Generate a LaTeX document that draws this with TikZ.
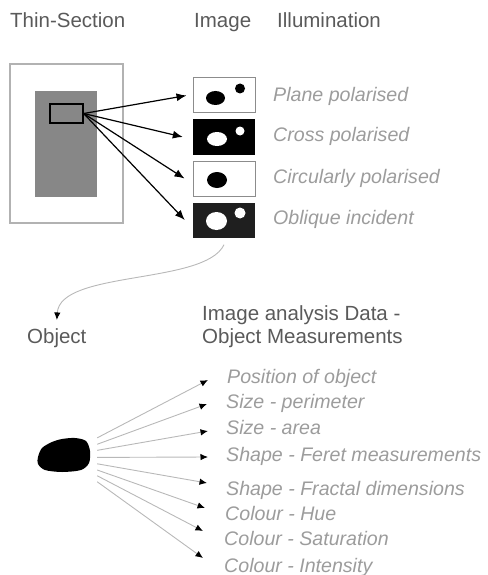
\documentclass[tikz,border=0pt]{standalone}
\usepackage{fontspec}
\setmainfont{Liberation Sans}
\usetikzlibrary{shapes.geometric, arrows.meta, positioning}
\definecolor{headgrey}{HTML}{5A5A5A}
\definecolor{itemgrey}{HTML}{9C9C9C}
\tikzstyle{heading} = [text=headgrey, font=\fontsize{20.5}{23}\selectfont, inner sep=0pt, anchor=base west]
\tikzstyle{item} = [text=itemgrey, font=\fontsize{19.6}{23}\selectfont\itshape, inner sep=0pt, anchor=base west]
\tikzstyle{slide} = [rectangle, draw=black!30, line width=1.2pt, minimum width=113pt, minimum height=159pt]
\tikzstyle{section} = [rectangle, fill=black!47, minimum width=62pt, minimum height=106pt]
\tikzstyle{roi} = [rectangle, draw=black, fill=black!47, line width=1.3pt, minimum width=33pt, minimum height=19pt]
\tikzstyle{imagebox} = [rectangle, minimum width=62pt, minimum height=35pt, inner sep=0pt]
\tikzstyle{arrow} = [line width=1.2pt, -{Latex[length=10pt,width=8pt]}]
\tikzstyle{measure} = [draw=black!28, line width=0.9pt, -{Latex[length=7.5pt,width=6.5pt,color=black,fill=black]}]

\begin{document}
\begin{tikzpicture}[x=1pt, y=1pt, node distance=41.5pt]
\useasboundingbox (0,0) rectangle (487,-575);

%% Headings
\node (thinhead) [heading] at (10,-28) {Thin-Section};
\node (imagehead) [heading] at (194,-28) {Image};
\node (illumhead) [heading] at (277,-28) {Illumination};

%% Thin section with region of interest
\node (slide) [slide] at (66.5,-143.5) {};
\node (section) [section] at (66,-144) {};
\node (roi) [roi] at (66.5,-113.5) {};

%% Images under the four illuminations
\node (img1) [imagebox, draw=black!45, line width=1pt] at (224,-95.5) {};
\node (img2) [imagebox, fill=black, below of=img1] {};
\node (img3) [imagebox, draw=black!45, line width=1pt, below of=img2] {};
\node (img4) [imagebox, fill=black!88, below of=img3] {};

\fill[shift={(img1.center)}] (-8.5,-2.5) ellipse (9.5 and 7) (16,7) circle (5);
\fill[white, shift={(img2.center)}] (-7,-2) ellipse (10 and 7) (16,6) circle (4.5);
\fill[shift={(img3.center)}] (-7,-1.5) ellipse (10 and 8);
\fill[white, shift={(img4.center)}] (-7.5,-1) ellipse (10.5 and 9) (16,7) circle (5.5);

\node (lab1) [item] at (273,-102) {Plane polarised};
\node (lab2) [item] at (273,-142) {Cross polarised};
\node (lab3) [item] at (273,-183) {Circularly polarised};
\node (lab4) [item] at (273,-224) {Oblique incident};

%% Object and measurements
\node (objlabel) [heading] at (27,-343) {Object};
\node (datahead) [heading, anchor=north west, align=left] at (202,-305.3) {Image analysis Data -\\Object Measurements};

\node (blob) [rectangle, minimum width=60pt, minimum height=50pt] at (67,-459) {};
\fill[shift={(blob.center)}] plot[smooth cycle] coordinates {(-29,2) (-25,11) (-15,17) (-5,20) (8,21) (19,18) (23,8) (22,-4) (14,-11) (-5,-13) (-22,-11) (-29,-5)};

\node (m1) [item] at (227,-383) {Position of object};
\node (m2) [item] at (226,-408) {Size - perimeter};
\node (m3) [item] at (226,-434) {Size - area};
\node (m4) [item] at (226,-461) {Shape - Feret measurements};
\node (m5) [item] at (226,-495) {Shape - Fractal dimensions};
\node (m6) [item] at (225,-520) {Colour - Hue};
\node (m7) [item] at (224,-545) {Colour - Saturation};
\node (m8) [item] at (224,-572) {Colour - Intensity};

%% Draw the connectivity.
\draw [arrow] (roi.east) -- ([xshift=-6pt]img1.west);
\draw [arrow] (roi.east) -- ([xshift=-10pt]img2.west);
\draw [arrow] (roi.east) -- ([xshift=-8pt]img3.west);
\draw [arrow] (roi.east) -- ([xshift=-8pt]img4.west);

\draw [measure] ([yshift=-7pt]img4.south) .. controls (205,-285) and (60,-270) .. ([yshift=8pt]objlabel.north);

\draw [measure] (blob.35) -- ([shift={(-19pt,3pt)}]m1.base west);
\draw [measure] (blob.26.6) -- ([shift={(-19pt,4pt)}]m2.base west);
\draw [measure] (blob.16.7) -- ([shift={(-18pt,3pt)}]m3.base west);
\draw [measure] (blob.3.8) -- ([shift={(-18pt,4pt)}]m4.base west);
\draw [measure] (blob.-9.5) -- ([shift={(-19pt,12pt)}]m5.base west);
\draw [measure] (blob.-20.1) -- ([shift={(-20pt,12pt)}]m6.base west);
\draw [measure] (blob.-29.5) -- ([shift={(-21pt,14pt)}]m7.base west);
\draw [measure] (blob.-37.5) -- ([shift={(-21pt,14pt)}]m8.base west);
\end{tikzpicture}
\end{document}
